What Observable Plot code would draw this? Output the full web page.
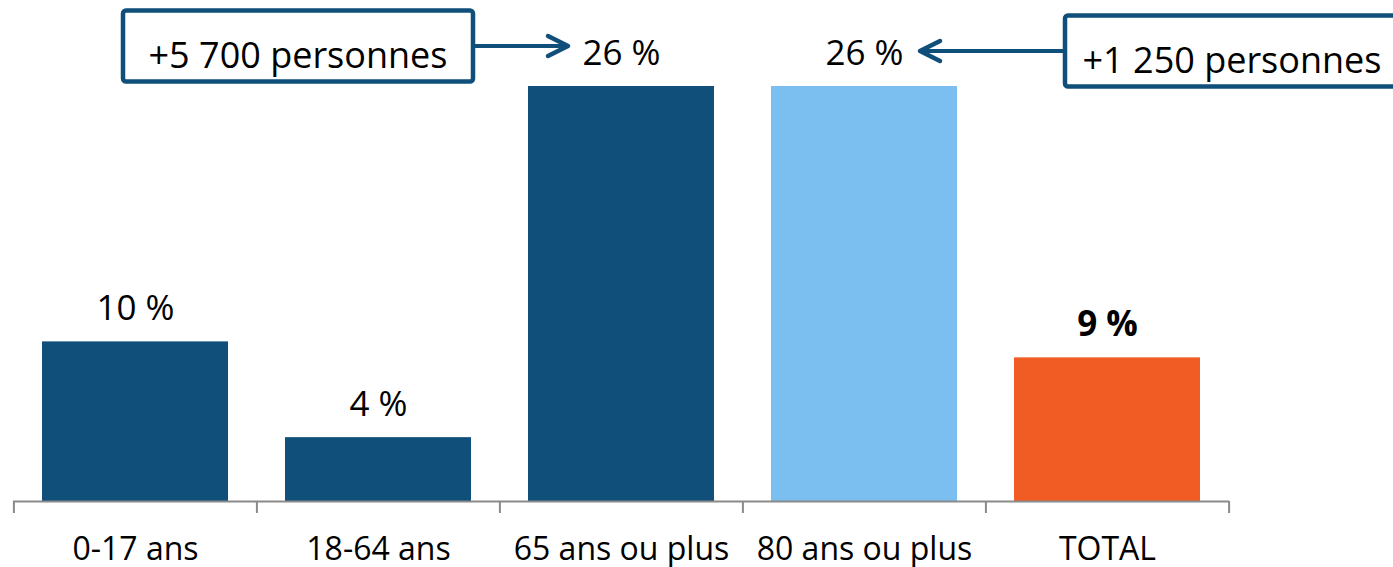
<!DOCTYPE html>
<html>
<head>
<meta charset="utf-8">
<script src="https://cdn.jsdelivr.net/npm/d3@7"></script>
<script src="https://cdn.jsdelivr.net/npm/@observablehq/plot@0.6"></script>
<style>
  html, body { margin: 0; padding: 0; background: #fff; }
  #chart svg { display: block; overflow: visible; }
</style>
</head>
<body>
<div id="chart"></div>
<script>
// ---- data ----
const categories = ["0-17 ans", "18-64 ans", "65 ans ou plus", "80 ans ou plus", "TOTAL"];
const values = [10, 4, 26, 26, 9];
const valueLabels = ["10 %", "4 %", "26 %", "26 %", "9 %"];
const annotationTexts = ["+5 700 personnes", "+1 250 personnes"];
const annotationTargets = ["65 ans ou plus", "80 ans ou plus"];
const annotationSides = ["left", "right"];

// ---- styles / layout ----
const barColors = ["#0f4f79", "#0f4f79", "#0f4f79", "#7bbff0", "#f15b24"];
const boxColor = "#0f4f79";
const axisColor = "#8a8a8a";
const W = 1393, H = 567;
const mL = 13, mR = 164, mT = 86, mB = 66;
const step = (W - mL - mR) / categories.length;
const FONT = "'Open Sans', 'Noto Sans', sans-serif";

const data = categories.map((c, i) => ({cat: c, value: values[i], label: valueLabels[i]}));
const valueOf = Object.fromEntries(data.map(d => [d.cat, d.value]));

function annotations(index, scales) {
  const x = scales.x, y = scales.y;
  const bw = typeof x.bandwidth === "function" ? x.bandwidth() : 0;
  const g = d3.create("svg:g");
  annotationTexts.forEach((t, i) => {
    const cat = annotationTargets[i];
    const cx = x(cat) + bw / 2;
    const top = y(valueOf[cat]);
    const left = annotationSides[i] === "left";
    const cy = top - (left ? 40 : 35);
    const boxW = left ? 350 : 334, boxH = 71;
    const tipX = left ? cx - 53 : cx + 56;
    const boxX = left ? cx - 148 - boxW : cx + 201;
    const startX = left ? boxX + boxW : boxX;
    g.append("rect")
      .attr("x", boxX).attr("y", cy - boxH / 2)
      .attr("width", boxW).attr("height", boxH)
      .attr("rx", 3)
      .attr("fill", "#fff").attr("stroke", boxColor).attr("stroke-width", 4.5);
    g.append("text")
      .attr("x", boxX + boxW / 2).attr("y", cy + 22)
      .attr("text-anchor", "middle")
      .attr("font-family", FONT).attr("font-size", 36).attr("fill", "#000")
      .text(t);
    g.append("line")
      .attr("x1", startX).attr("y1", cy).attr("x2", tipX + (left ? -2 : 2)).attr("y2", cy)
      .attr("stroke", boxColor).attr("stroke-width", 4);
    const dir = left ? -1 : 1; // arrow head pointing towards tip
    g.append("path")
      .attr("d", `M${tipX + dir * 20},${cy - 10} L${tipX},${cy} L${tipX + dir * 20},${cy + 10}`)
      .attr("fill", "none").attr("stroke", boxColor).attr("stroke-width", 4.5)
      .attr("stroke-linecap", "round").attr("stroke-linejoin", "round");
  });
  return g.node();
}

const chart = Plot.plot({
  width: W,
  height: H,
  marginLeft: mL,
  marginRight: mR,
  marginTop: mT,
  marginBottom: mB,
  style: {fontFamily: FONT, color: "#000", background: "#fff", overflow: "visible"},
  x: {type: "band", domain: categories, paddingInner: 0.233, paddingOuter: 0.1165, align: 0.5, axis: null, label: null},
  y: {domain: [0, 26], axis: null, label: null},
  color: {domain: categories, range: barColors},
  marks: [
    Plot.barY(data, {x: "cat", y: "value", fill: "cat"}),
    Plot.ruleY([0], {stroke: axisColor, strokeWidth: 2}),
    Plot.ruleX(categories, {x: d => d, y1: 0, y2: 0, insetBottom: -12, dx: -step / 2, stroke: axisColor, strokeWidth: 2}),
    Plot.ruleX(categories.slice(-1), {x: d => d, y1: 0, y2: 0, insetBottom: -12, dx: step / 2, stroke: axisColor, strokeWidth: 2}),
    Plot.axisX({tickSize: 0, tickPadding: 36, fontSize: 32, fill: "#000", label: null}),
    Plot.text(data.filter(d => d.cat !== "TOTAL"), {x: "cat", y: "value", text: "label", dy: -33, fontSize: 35, fill: "#000"}),
    Plot.text(data.filter(d => d.cat === "TOTAL"), {x: "cat", y: "value", text: "label", dy: -33, fontSize: 35, fontWeight: "bold", fill: "#000"}),
    annotations
  ]
});
document.getElementById("chart").appendChild(chart);
</script>
</body>
</html>
